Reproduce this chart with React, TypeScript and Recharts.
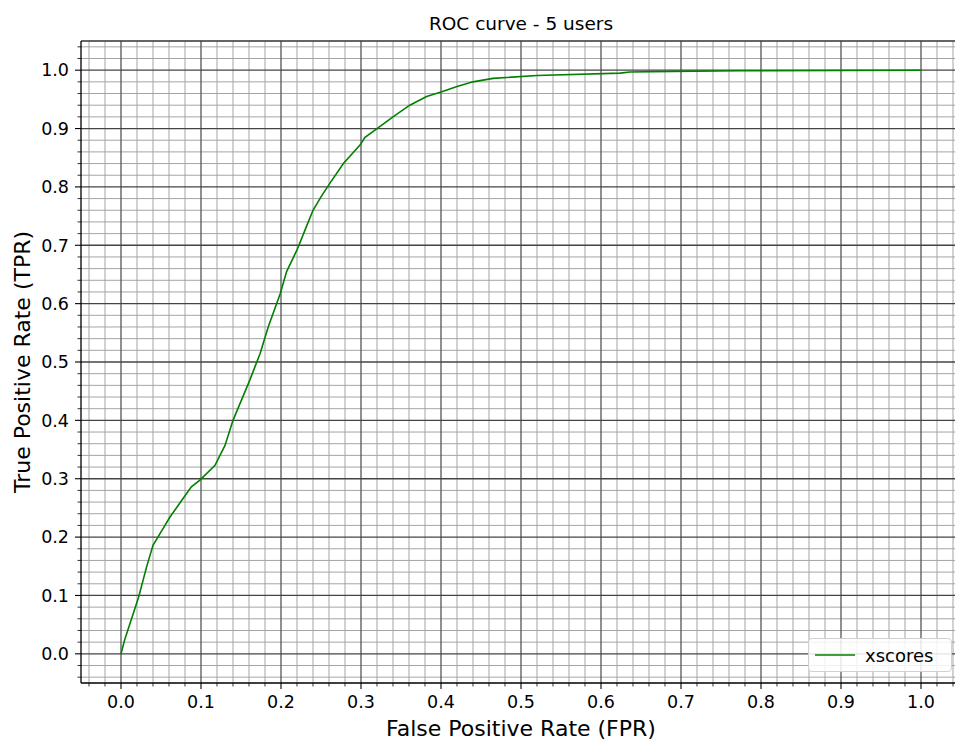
import { Legend, Line, LineChart, ReferenceLine, XAxis, YAxis } from "recharts";

// ROC points
const fpr = [
  0, 0.005, 0.022, 0.032, 0.04, 0.051, 0.061, 0.076, 0.088, 0.099, 0.1175, 0.13,
  0.14, 0.161, 0.174, 0.184, 0.199, 0.207, 0.22, 0.23, 0.24, 0.25, 0.261, 0.278,
  0.299, 0.305, 0.32, 0.34, 0.361, 0.382, 0.401, 0.42, 0.44, 0.465, 0.52, 0.624,
  0.636, 0.69, 0.774, 1.0,
];
const tpr = [
  0, 0.026, 0.097, 0.149, 0.186, 0.211, 0.234, 0.263, 0.286, 0.298, 0.323, 0.357,
  0.4, 0.469, 0.515, 0.56, 0.617, 0.655, 0.692, 0.726, 0.76, 0.783, 0.806, 0.84,
  0.872, 0.885, 0.9, 0.92, 0.94, 0.955, 0.963, 0.972, 0.98, 0.986, 0.991, 0.995,
  0.997, 0.998, 0.999, 1.0,
];

const majorTicks = [0, 0.1, 0.2, 0.3, 0.4, 0.5, 0.6, 0.7, 0.8, 0.9, 1.0];
const tickLabels = ["0.0", "0.1", "0.2", "0.3", "0.4", "0.5", "0.6", "0.7", "0.8", "0.9", "1.0"];
const DOMAIN: [number, number] = [-0.05, 1.05];

const minorTicks = Array.from({ length: 55 }, (_, i) => Math.round((-0.04 + i * 0.02) * 100) / 100)
  .filter((v) => !majorTicks.some((m) => Math.abs(m - v) < 1e-9));
const allTicks = [...minorTicks, ...majorTicks].sort((a, b) => a - b);

const data = fpr.map((x, i) => ({ fpr: x, tpr: tpr[i] }));

const FONT = "'DejaVu Sans', sans-serif";
const GREEN = "#008000";

function labelFor(v: number) {
  const idx = majorTicks.findIndex((m) => Math.abs(m - v) < 1e-9);
  return idx >= 0 ? tickLabels[idx] : null;
}

function XTick({ x, y, payload }: any) {
  const lbl = labelFor(payload.value);
  const len = lbl ? 6 : 3.5;
  return (
    <g>
      <line x1={x} x2={x} y1={y} y2={y + len} stroke="#000" strokeWidth={lbl ? 1.1 : 0.8} />
      {lbl && (
        <text x={x} y={y + 25} textAnchor="middle" fontSize={17.5} fontFamily={FONT} fill="#000">
          {lbl}
        </text>
      )}
    </g>
  );
}

function YTick({ x, y, payload }: any) {
  const lbl = labelFor(payload.value);
  const len = lbl ? 6 : 3.5;
  return (
    <g>
      <line x1={x - len} x2={x} y1={y} y2={y} stroke="#000" strokeWidth={lbl ? 1.1 : 0.8} />
      {lbl && (
        <text x={x - 12} y={y} dy="0.36em" textAnchor="end" fontSize={17.5} fontFamily={FONT} fill="#000">
          {lbl}
        </text>
      )}
    </g>
  );
}

function LegendBox() {
  return (
    <div
      style={{
        boxSizing: "border-box",
        width: 144,
        height: 34,
        background: "rgba(255,255,255,0.85)",
        border: "1px solid #d0d0d0",
        borderRadius: 4,
        display: "flex",
        alignItems: "center",
        fontFamily: FONT,
        fontSize: 18,
        color: "#000",
      }}
    >
      <svg width={46} height={10} style={{ marginLeft: 6, marginRight: 10 }}>
        <line x1={0} x2={40} y1={5} y2={5} stroke={GREEN} strokeWidth={1.6} />
      </svg>
      <span style={{ marginLeft: -6 }}>xscores</span>
    </div>
  );
}

export default function App() {
  return (
    <div style={{ position: "absolute", left: 0, top: 0, width: 955, height: 744, overflow: "hidden", background: "#fff" }}>
      <LineChart width={975} height={744} data={data} margin={{ top: 41, right: 14, left: 0, bottom: 0 }}>
        {minorTicks.map((v) => (
          <ReferenceLine key={`mx${v}`} x={v} stroke="#a4a4a4" strokeWidth={1} />
        ))}
        {minorTicks.map((v) => (
          <ReferenceLine key={`my${v}`} y={v} stroke="#a4a4a4" strokeWidth={1} />
        ))}
        {majorTicks.map((v) => (
          <ReferenceLine key={`Mx${v}`} x={v} stroke="#555" strokeWidth={1.3} />
        ))}
        {majorTicks.map((v) => (
          <ReferenceLine key={`My${v}`} y={v} stroke="#444" strokeWidth={1.3} />
        ))}
        <ReferenceLine
          y={1.05}
          stroke="#333"
          strokeWidth={1.3}
          label={{ value: "ROC curve - 5 users", position: "top", offset: 11, fill: "#000", fontSize: 18.5, fontFamily: FONT }}
        />
        <XAxis
          dataKey="fpr"
          type="number"
          domain={DOMAIN}
          ticks={allTicks}
          interval={0}
          height={61}
          tickSize={0}
          tickMargin={0}
          tickLine={false}
          tick={<XTick />}
          axisLine={{ stroke: "#000", strokeWidth: 1.3 }}
          label={{ value: "False Positive Rate (FPR)", position: "insideBottom", offset: 8, fill: "#000", fontSize: 22, fontFamily: FONT }}
        />
        <YAxis
          type="number"
          domain={DOMAIN}
          ticks={allTicks}
          interval={0}
          width={81}
          tickSize={0}
          tickMargin={0}
          tickLine={false}
          tick={<YTick />}
          axisLine={{ stroke: "#000", strokeWidth: 1.3 }}
          label={{
            value: "True Positive Rate (TPR)",
            angle: -90,
            position: "insideLeft",
            offset: 22,
            fill: "#000",
            fontSize: 22,
            fontFamily: FONT,
            style: { textAnchor: "middle" },
          }}
        />
        <Legend
          layout="horizontal"
          verticalAlign="middle"
          align="center"
          content={<LegendBox />}
          wrapperStyle={{ position: "absolute", left: 808, top: 638, width: 144, height: 34 }}
        />
        <Line
          type="linear"
          dataKey="tpr"
          name="xscores"
          stroke={GREEN}
          strokeWidth={1.6}
          dot={false}
          activeDot={false}
          isAnimationActive={false}
        />
      </LineChart>
    </div>
  );
}
